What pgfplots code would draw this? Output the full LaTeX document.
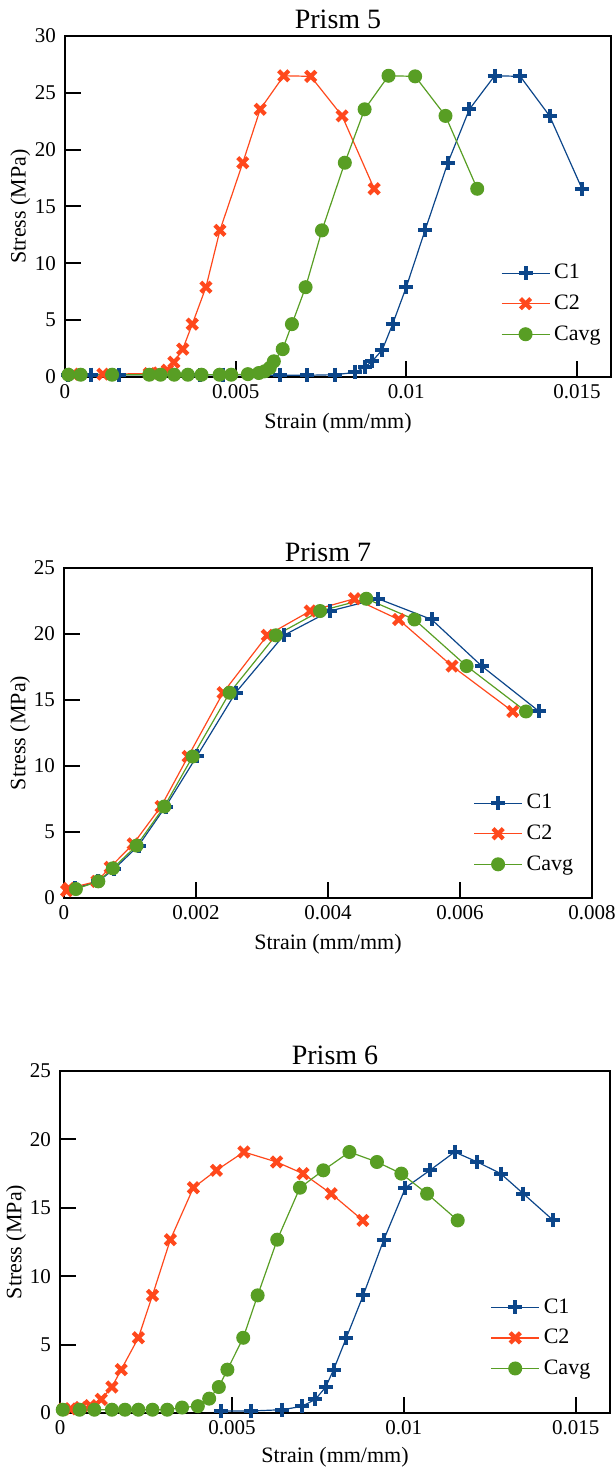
\documentclass[border=0pt]{standalone}
\usepackage{fontspec}
\setmainfont{Liberation Serif}
\usepackage{pgfplots}
\pgfplotsset{compat=1.18}
\definecolor{cone}{RGB}{12,70,138}
\definecolor{ctwo}{RGB}{255,72,28}
\definecolor{cavg}{RGB}{88,158,36}
\pgfplotsset{
  myaxis/.style={
    scale only axis,
    axis line style={line width=1pt},
    tick align=inside, xtick pos=left, ytick pos=left,
    major tick length=8pt,
    tick style={line width=1pt, black},
    ticklabel style={font=\fontsize{10.5}{12}\selectfont},
    yticklabel style={xshift=-1pt},
    scaled x ticks=false, scaled y ticks=false,
    /pgf/number format/assume math mode=true,
    xticklabel style={/pgf/number format/fixed, /pgf/number format/precision=3},
    xlabel={Strain (mm/mm)}, ylabel={Stress (MPa)},
    label style={font=\fontsize{11}{13}\selectfont},
    xlabel style={at={(axis description cs:0.5,0)}, anchor=center, yshift=-23pt},
    title style={font=\fontsize{14}{16}\selectfont, at={(axis description cs:0.5,1)}, anchor=base, yshift=-2.5pt},
    legend cell align=left,
    legend image code/.code={\draw[mark repeat=2,mark phase=2] plot coordinates {(0pt,0pt)(12pt,0pt)(24pt,0pt)};},
    legend style={draw=none, fill=none, font=\fontsize{11}{13}\selectfont, row sep=2.5pt},
  },
  c1/.style={color=cone, line width=0.6pt, mark=+, mark size=3.5pt, mark options={line width=2pt}},
  c2/.style={color=ctwo, line width=0.6pt, mark=x, mark size=3.6pt, mark options={line width=2.1pt}},
  ca/.style={color=cavg, line width=0.6pt, mark=*, mark size=3.2pt, mark options={fill=cavg, draw=cavg}},
}
\begin{document}
\begin{tikzpicture}
\useasboundingbox (0,0) rectangle (307.5pt,-735pt);
% ---------------- Prism 5
\begin{axis}[myaxis, at={(32.5pt,-18pt)}, anchor=north west, width=273pt, height=170.5pt,
  xmin=0, xmax=0.016, ymin=0, ymax=30, xtick={0,0.005,0.01,0.015}, ytick={0,5,...,30},
  title={Prism 5}, ylabel style={at={(axis description cs:-0.082,0.5)}, anchor=center},
  legend style={at={(1,0.075)}, anchor=south east}]
\addplot[c1] coordinates {(0.0001,0.2)(0.00075,0.2)(0.00158,0.2)(0.00396,0.2)(0.00464,0.2)(0.0063,0.15)(0.0071,0.15)(0.0079,0.2)(0.0085,0.4)(0.0088,0.9)(0.0090,1.38)(0.0093,2.4)(0.0096,4.65)(0.0100,7.9)(0.01055,12.9)(0.01122,18.85)(0.01185,23.55)(0.01259,26.5)(0.01334,26.45)(0.0142,22.97)(0.01515,16.56)};
\addlegendentry{C1}
\addplot[c2] coordinates {(0.00023,0.25)(0.00111,0.25)(0.00247,0.3)(0.00275,0.35)(0.0030,0.6)(0.00319,1.3)(0.00345,2.45)(0.00373,4.65)(0.00413,7.9)(0.00454,12.9)(0.00521,18.85)(0.00572,23.55)(0.00641,26.5)(0.0072,26.45)(0.00812,22.97)(0.00906,16.56)};
\addlegendentry{C2}
\addplot[ca] coordinates {(0.0001,0.2)(0.00046,0.2)(0.00138,0.2)(0.00247,0.2)(0.0028,0.2)(0.0032,0.2)(0.0036,0.2)(0.004,0.2)(0.00453,0.2)(0.00487,0.2)(0.00536,0.25)(0.00568,0.35)(0.00585,0.5)(0.006,0.8)(0.00612,1.38)(0.00638,2.45)(0.00665,4.65)(0.00705,7.9)(0.00753,12.9)(0.0082,18.85)(0.00878,23.55)(0.00948,26.5)(0.01026,26.45)(0.01115,22.97)(0.01208,16.56)};
\addlegendentry{Cavg}
\end{axis}
% ---------------- Prism 7
\begin{axis}[myaxis, at={(32pt,-284pt)}, anchor=north west, width=264pt, height=165pt,
  xmin=0, xmax=0.008, ymin=0, ymax=25, xtick={0,0.002,0.004,0.006,0.008}, ytick={0,5,...,25},
  title={Prism 7}, ylabel style={at={(axis description cs:-0.083,0.5)}, anchor=center},
  legend style={at={(0.984,0.05)}, anchor=south east}]
\addplot[c1] coordinates {(0.00016,0.73)(0.00052,1.26)(0.00076,2.2)(0.00113,3.97)(0.00154,6.93)(0.00201,10.72)(0.0026,15.55)(0.00333,19.9)(0.00403,21.74)(0.00476,22.67)(0.00557,21.1)(0.00633,17.57)(0.0072,14.13)};
\addlegendentry{C1}
\addplot[c2] coordinates {(0.00004,0.55)(0.00007,0.73)(0.0005,1.26)(0.0007,2.33)(0.00105,4.1)(0.00147,6.93)(0.00188,10.72)(0.00241,15.55)(0.00308,19.9)(0.00373,21.74)(0.0044,22.67)(0.00507,21.1)(0.00588,17.57)(0.0068,14.13)};
\addlegendentry{C2}
\addplot[ca] coordinates {(0.00018,0.68)(0.00052,1.26)(0.00074,2.25)(0.0011,3.97)(0.00152,6.93)(0.00195,10.72)(0.00251,15.55)(0.00321,19.9)(0.00388,21.74)(0.00458,22.67)(0.00531,21.1)(0.0061,17.57)(0.007,14.13)};
\addlegendentry{Cavg}
\end{axis}
% ---------------- Prism 6
\begin{axis}[myaxis, at={(30pt,-535.5pt)}, anchor=north west, width=275pt, height=171pt,
  xmin=0, xmax=0.016, ymin=0, ymax=25, xtick={0,0.005,0.01,0.015}, ytick={0,5,...,25},
  title={Prism 6}, ylabel style={at={(axis description cs:-0.08,0.5)}, anchor=center},
  xlabel style={yshift=1pt},
  legend style={at={(0.983,0.08)}, anchor=south east}]
\addplot[c1] coordinates {(0.00468,0.15)(0.00556,0.15)(0.00647,0.24)(0.00704,0.49)(0.00743,1.0)(0.00773,1.9)(0.00796,3.17)(0.00833,5.5)(0.00882,8.6)(0.00942,12.67)(0.01005,16.47)(0.01076,17.74)(0.01148,19.08)(0.01214,18.35)(0.01282,17.5)(0.01348,16.03)(0.01435,14.08)};
\addlegendentry{C1}
\addplot[c2] coordinates {(0.00011,0.3)(0.0003,0.3)(0.0006,0.4)(0.00088,0.55)(0.0012,1.0)(0.00151,1.9)(0.00178,3.17)(0.00228,5.5)(0.00269,8.6)(0.00321,12.67)(0.00388,16.47)(0.00455,17.74)(0.00535,19.08)(0.0063,18.35)(0.00707,17.5)(0.00789,16.03)(0.00881,14.08)};
\addlegendentry{C2}
\addplot[ca] coordinates {(0.00008,0.24)(0.00057,0.24)(0.001,0.24)(0.00151,0.24)(0.00189,0.24)(0.00228,0.24)(0.00269,0.24)(0.00312,0.24)(0.00355,0.4)(0.00401,0.5)(0.00434,1.05)(0.00462,1.9)(0.00487,3.17)(0.00533,5.5)(0.00575,8.6)(0.00632,12.67)(0.00698,16.47)(0.00766,17.74)(0.00842,19.08)(0.00922,18.35)(0.00993,17.5)(0.01068,16.03)(0.01157,14.08)};
\addlegendentry{Cavg}
\end{axis}
\end{tikzpicture}
\end{document}
